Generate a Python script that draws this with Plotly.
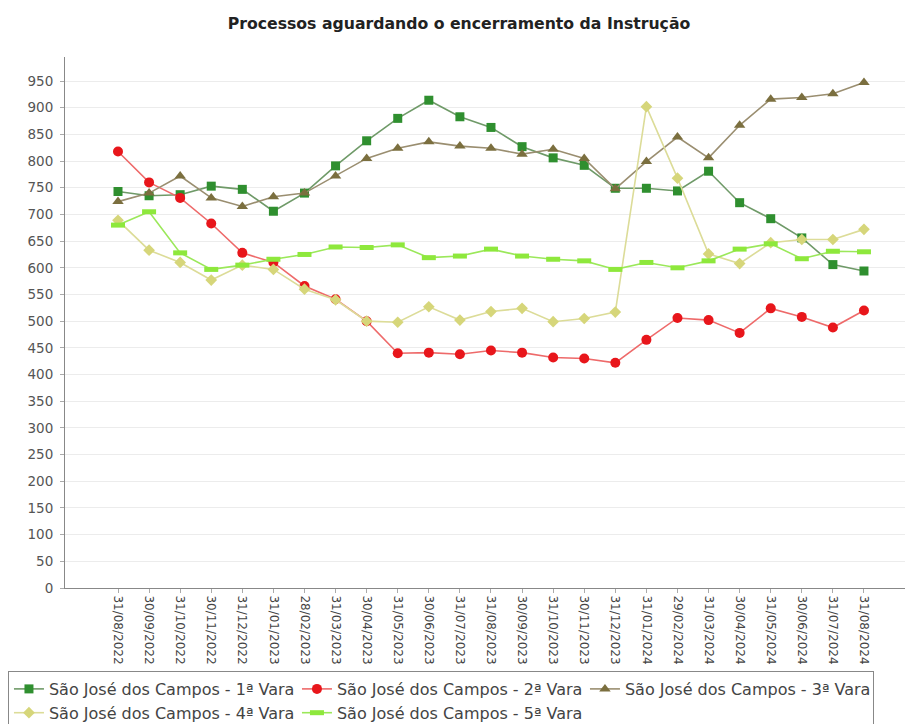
import plotly.graph_objects as go

dates = ["31/08/2022", "30/09/2022", "31/10/2022", "30/11/2022", "31/12/2022",
         "31/01/2023", "28/02/2023", "31/03/2023", "30/04/2023", "31/05/2023",
         "30/06/2023", "31/07/2023", "31/08/2023", "30/09/2023", "31/10/2023",
         "30/11/2023", "31/12/2023", "31/01/2024", "29/02/2024", "31/03/2024",
         "30/04/2024", "31/05/2024", "30/06/2024", "31/07/2024", "31/08/2024"]

vara1 = [743, 735, 737, 753, 747, 706, 740, 791, 838, 880, 914, 883, 863, 827, 806,
         792, 749, 749, 744, 781, 722, 692, 656, 606, 594]
vara2 = [818, 760, 731, 683, 628, 610, 566, 541, 500, 440, 441, 438, 445, 441, 432,
         430, 422, 465, 506, 502, 478, 524, 508, 488, 520]
vara3 = [724, 740, 772, 731, 715, 733, 740, 772, 805, 824, 836, 828, 824, 813, 822,
         805, 748, 799, 845, 806, 867, 916, 919, 926, 947]
vara4 = [689, 633, 610, 577, 605, 597, 560, 540, 500, 498, 527, 502, 518, 524, 499,
         505, 517, 902, 768, 626, 608, 647, 653, 653, 672]
vara5 = [680, 705, 628, 597, 605, 616, 625, 639, 638, 643, 619, 622, 635, 622, 616,
         613, 597, 610, 600, 613, 635, 645, 617, 631, 630]

names = ["São José dos Campos - 1ª Vara", "São José dos Campos - 2ª Vara",
         "São José dos Campos - 3ª Vara", "São José dos Campos - 4ª Vara",
         "São José dos Campos - 5ª Vara"]

title = "Processos aguardando o encerramento da Instrução"
y_ticks = list(range(0, 951, 50))

fig = go.Figure()

styles = [
    dict(color="#2f8f2f", line="#6f9a68", symbol="square", size=9, lw=0),
    dict(color="#e8161b", line="#ee6a6a", symbol="circle", size=10, lw=0),
    dict(color="#7b6f3f", line="#9a8e70", symbol="triangle-up", size=10, lw=0),
    dict(color="#d6d67a", line="#dcdc98", symbol="diamond", size=9, lw=0),
    dict(color="#8ee83c", line="#9be85a", symbol="line-ew", size=10, lw=5),
]

for name, vals, st in zip(names, [vara1, vara2, vara3, vara4, vara5], styles):
    if st["symbol"] == "line-ew":
        marker = dict(symbol="line-ew", size=st["size"],
                      line=dict(color=st["color"], width=st["lw"]), color=st["color"])
    else:
        marker = dict(symbol=st["symbol"], size=st["size"], color=st["color"],
                      line=dict(width=0))
    fig.add_trace(go.Scatter(
        x=dates, y=vals, name=name, mode="lines+markers",
        line=dict(color=st["line"], width=1.6),
        marker=marker,
    ))

fig.update_layout(
    width=919, height=724,
    margin=dict(l=57, r=22, t=49, b=144, autoexpand=False),
    paper_bgcolor="white", plot_bgcolor="white",
    font=dict(family="DejaVu Sans", color="#444"),
    title=dict(text="<b>" + title + "</b>", x=451 / 919, xref="container",
               y=1 - 16 / 724, yref="container", yanchor="middle",
               xanchor="center", font=dict(size=15.7, color="#222")),
    showlegend=True,
    legend=dict(orientation="h", x=-0.0679, xanchor="left", y=-0.1563, yanchor="top",
                bordercolor="#888", borderwidth=1, bgcolor="white",
                font=dict(size=16, color="#444"), traceorder="normal",
                itemwidth=30, entrywidth=243),
)

fig.update_xaxes(
    type="category", range=[-1.705, 25.32],
    showgrid=False, showline=True, linecolor="#888", linewidth=1,
    ticks="outside", ticklen=4, tickcolor="#aaa",
    tickangle=90, tickfont=dict(size=12, color="#444"),
    zeroline=False,
)
fig.update_yaxes(
    range=[0, 995], tickvals=y_ticks, ticktext=[str(v) for v in y_ticks],
    showgrid=True, gridcolor="#ececec", gridwidth=1,
    showline=True, linecolor="#888", linewidth=1,
    ticks="outside", ticklen=4, tickcolor="#aaa", ticklabelstandoff=4,
    tickfont=dict(size=13.5, color="#555"), zeroline=False,
)

fig.write_html("out.html")
